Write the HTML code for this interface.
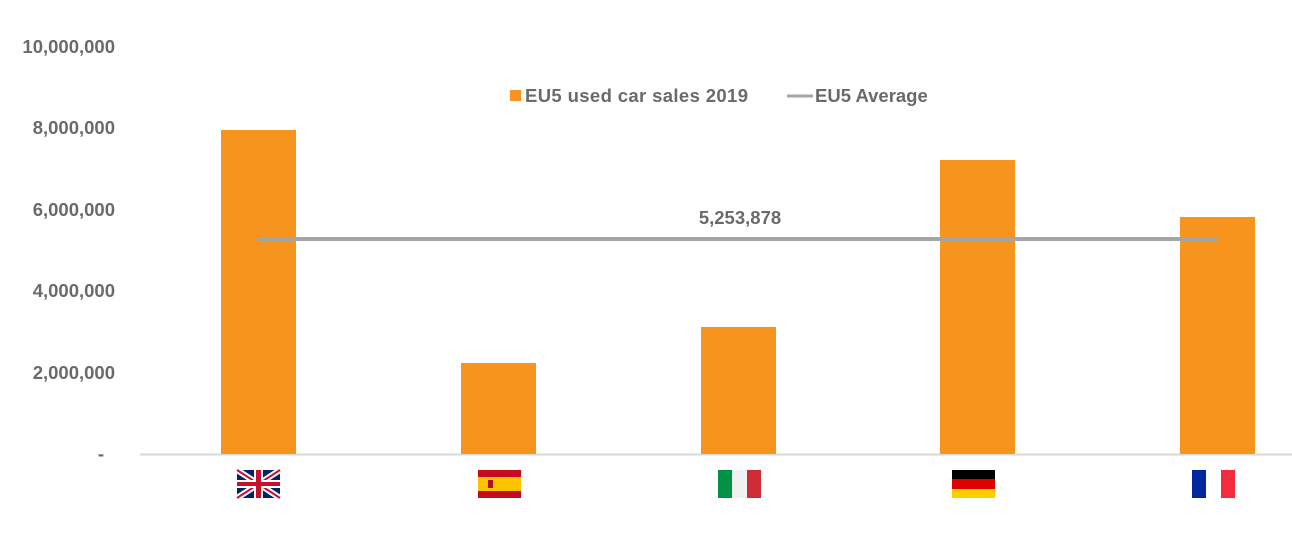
<!DOCTYPE html>
<html><head><style>
body{margin:0;background:#fff;}
svg text{font-family:"Liberation Sans",sans-serif;font-weight:bold;fill:#6a6a6a;font-size:18.5px;}
</style></head><body>
<svg width="1292" height="532" xmlns="http://www.w3.org/2000/svg">
<g text-anchor="end">
<text x="115" y="53">10,000,000</text>
<text x="115" y="134">8,000,000</text>
<text x="115" y="216">6,000,000</text>
<text x="115" y="297">4,000,000</text>
<text x="115" y="379">2,000,000</text>
<text x="104" y="460">-</text>
</g>
<line x1="140" y1="454.5" x2="1292" y2="454.5" stroke="#d9d9d9" stroke-width="2"/>
<g fill="#f7941d">
<rect x="221" y="130" width="75" height="324"/>
<rect x="461" y="363" width="75" height="91"/>
<rect x="701" y="327" width="75" height="127"/>
<rect x="940" y="160" width="75" height="294"/>
<rect x="1180" y="217" width="75" height="237"/>
</g>
<line x1="258" y1="239" x2="1218" y2="239" stroke="#a5a5a5" stroke-width="4"/>
<text x="740" y="224" text-anchor="middle">5,253,878</text>
<rect x="510" y="90" width="11" height="11" fill="#f7941d"/>
<text x="525" y="102" textLength="223">EU5 used car sales 2019</text>
<line x1="787" y1="96" x2="813" y2="96" stroke="#a5a5a5" stroke-width="3"/>
<text x="815" y="102">EU5 Average</text>
<g transform="translate(237,470)">
<rect width="43" height="28" fill="#012169"/>
<path d="M0,0L43,28M43,0L0,28" stroke="#fff" stroke-width="6"/>
<path d="M0,0L43,28M43,0L0,28" stroke="#c8102e" stroke-width="2"/>
<rect x="17" width="9" height="28" fill="#fff"/><rect y="10" width="43" height="8" fill="#fff"/>
<rect x="19" width="5" height="28" fill="#c8102e"/><rect y="12" width="43" height="4" fill="#c8102e"/>
</g>
<g transform="translate(478,470)">
<rect width="43" height="28" fill="#c60b1e"/><rect y="7" width="43" height="14" fill="#ffc400"/>
<rect x="10" y="10" width="5" height="8" fill="#ad1519"/>
</g>
<g transform="translate(718,470)">
<rect width="14" height="28" fill="#009246"/><rect x="14" width="15" height="28" fill="#f1f1f1"/><rect x="29" width="14" height="28" fill="#ce2b37"/>
</g>
<g transform="translate(952,470)">
<rect width="43" height="9" fill="#000"/><rect y="9" width="43" height="10" fill="#dd0000"/><rect y="19" width="43" height="9" fill="#ffce00"/>
</g>
<g transform="translate(1192,470)">
<rect width="14" height="28" fill="#0026a0"/><rect x="14" width="15" height="28" fill="#fff"/><rect x="29" width="14" height="28" fill="#f42a41"/>
</g>
</svg>
</body></html>
